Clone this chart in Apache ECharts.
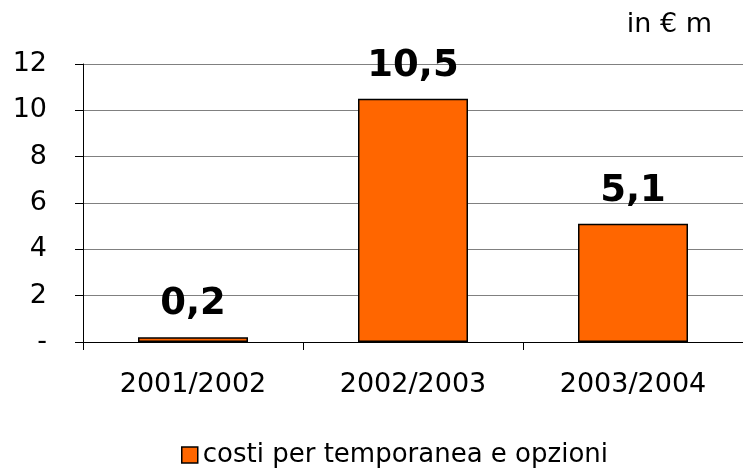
<!DOCTYPE html>
<html>
<head>
<meta charset="utf-8">
<script src="https://cdn.jsdelivr.net/npm/echarts@6/dist/echarts.min.js"></script>
<style>
  html, body { margin: 0; padding: 0; background: #fff; }
  #chart { width: 743px; height: 470px; }
</style>
</head>
<body>
<div id="chart"></div>
<script>
const categories = ['2001/2002', '2002/2003', '2003/2004'];
const costi = [0.2, 10.5, 5.1];
const seriesName = 'costi per temporanea e opzioni';
const unitLabel = 'in € m';

const chart = echarts.init(document.getElementById('chart'));
const font = 'Verdana, "DejaVu Sans", sans-serif';

chart.setOption({
  animation: false,
  backgroundColor: '#fff',
  textStyle: { fontFamily: font },
  title: {
    text: unitLabel,
    right: 26,
    top: 6,
    textStyle: { fontFamily: font, fontSize: 27, fontWeight: 'normal', color: '#000' }
  },
  legend: {
    top: 437,
    left: 176,
    itemWidth: 16,
    itemHeight: 16,
    itemGap: 4,
    icon: 'rect',
    itemStyle: { borderColor: '#000', borderWidth: 1.5 },
    textStyle: { fontFamily: font, fontSize: 26, color: '#000' },
    data: [seriesName]
  },
  grid: { left: 83, right: 0, top: 64, bottom: 128 },
  xAxis: {
    type: 'category',
    data: categories,
    axisLine: { lineStyle: { color: '#000', width: 1 } },
    axisTick: { show: true, length: 8, lineStyle: { color: '#000' } },
    axisLabel: { fontFamily: font, fontSize: 27, color: '#000', margin: 29 }
  },
  yAxis: {
    type: 'value',
    min: 0,
    max: 12,
    interval: 2,
    axisLine: { show: true, lineStyle: { color: '#000', width: 1 } },
    axisTick: { show: true, length: 8, lineStyle: { color: '#000' } },
    axisLabel: {
      fontFamily: font, fontSize: 27, color: '#000', margin: 36,
      formatter: v => v === 0 ? '-' : String(v)
    },
    splitLine: { show: true, lineStyle: { color: '#808080', width: 1 } }
  },
  series: [{
    name: seriesName,
    type: 'bar',
    data: costi,
    barWidth: '50%',
    itemStyle: { color: '#ff6600', borderColor: '#000', borderWidth: 1.5 },
    label: {
      show: true,
      position: 'top',
      distance: 14,
      fontFamily: font,
      fontSize: 37,
      fontWeight: 'bold',
      color: '#000',
      formatter: p => String(p.value).replace('.', ',')
    }
  }]
});
</script>
</body>
</html>
